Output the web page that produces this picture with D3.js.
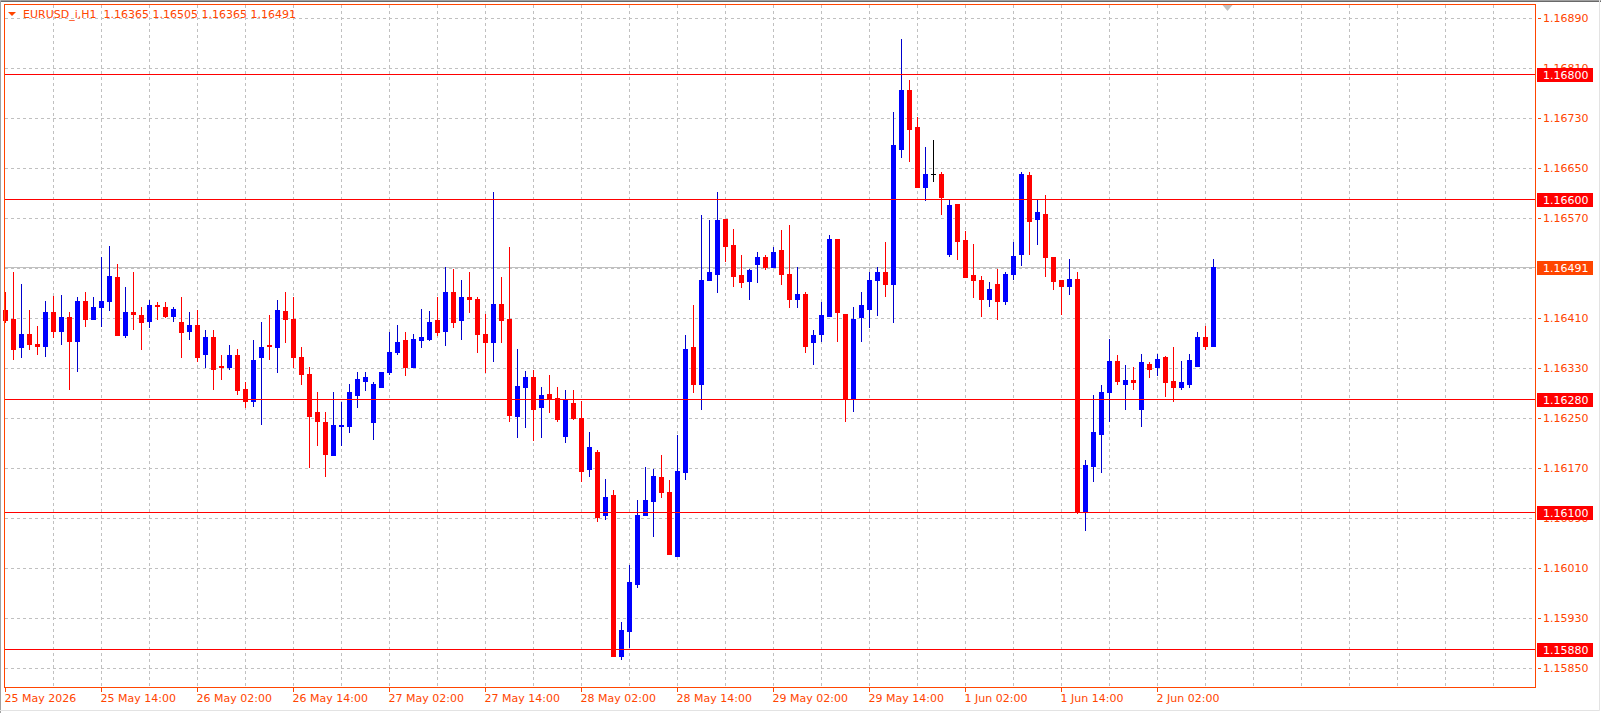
<!DOCTYPE html>
<html>
<head>
<meta charset="utf-8">
<script src="https://cdn.jsdelivr.net/npm/d3@7"></script>
<style>
  body { margin: 0; background: #ffffff; overflow: hidden; }
  svg text { font-family: "DejaVu Sans", sans-serif; font-size: 11px; }
</style>
</head>
<body>
<script>
// EURUSD_i H1 bars, 25 May 02:00 .. 2 Jun 09:00
const symbol = "EURUSD_i,H1";

const open = [
  1.16423, 1.16409, 1.16363, 1.16385, 1.16369, 1.16365, 1.16420, 1.16389, 1.16412, 1.16374,
  1.16438, 1.16408, 1.16427, 1.16438, 1.16476, 1.16382, 1.16420, 1.16415, 1.16405, 1.16431,
  1.16428, 1.16414, 1.16404, 1.16389, 1.16399, 1.16352, 1.16380, 1.16334, 1.16331, 1.16351,
  1.16297, 1.16278, 1.16347, 1.16367, 1.16363, 1.16422, 1.16409, 1.16348, 1.16321, 1.16259,
  1.16244, 1.16191, 1.16237, 1.16238, 1.16287, 1.16310, 1.16244, 1.16300, 1.16323, 1.16355,
  1.16375, 1.16332, 1.16375, 1.16377, 1.16406, 1.16390, 1.16451, 1.16406, 1.16444, 1.16441,
  1.16385, 1.16372, 1.16433, 1.16409, 1.16254, 1.16299, 1.16316, 1.16267, 1.16289, 1.16282,
  1.16222, 1.16274, 1.16250, 1.16168, 1.16196, 1.16094, 1.16127, 1.15870, 1.15910, 1.15985,
  1.16094, 1.16117, 1.16156, 1.16131, 1.16029, 1.16163, 1.16363, 1.16305, 1.16470, 1.16480,
  1.16569, 1.16527, 1.16479, 1.16469, 1.16496, 1.16508, 1.16491, 1.16519, 1.16481, 1.16440,
  1.16449, 1.16371, 1.16384, 1.16413, 1.16537, 1.16417, 1.16280, 1.16411, 1.16425, 1.16471,
  1.16484, 1.16465, 1.16681, 1.16775, 1.16715, 1.16619, 1.16640, 1.16641, 1.16513, 1.16593,
  1.16535, 1.16479, 1.16471, 1.16441, 1.16465, 1.16437, 1.16481, 1.16512, 1.16639, 1.16568,
  1.16577, 1.16508, 1.16471, 1.16462, 1.16473, 1.16100, 1.16174, 1.16224, 1.16291, 1.16342,
  1.16305, 1.16311, 1.16265, 1.16337, 1.16331, 1.16347, 1.16310, 1.16299, 1.16305, 1.16334,
  1.16380, 1.16365
];
const high = [
  1.16452, 1.16483, 1.16465, 1.16423, 1.16398, 1.16438, 1.16446, 1.16447, 1.16420, 1.16443,
  1.16452, 1.16444, 1.16507, 1.16526, 1.16497, 1.16460, 1.16484, 1.16427, 1.16439, 1.16436,
  1.16436, 1.16428, 1.16443, 1.16420, 1.16423, 1.16391, 1.16391, 1.16351, 1.16367, 1.16361,
  1.16307, 1.16375, 1.16404, 1.16415, 1.16439, 1.16452, 1.16444, 1.16364, 1.16331, 1.16292,
  1.16259, 1.16291, 1.16276, 1.16305, 1.16323, 1.16323, 1.16308, 1.16324, 1.16388, 1.16399,
  1.16388, 1.16385, 1.16425, 1.16422, 1.16444, 1.16492, 1.16489, 1.16471, 1.16484, 1.16444,
  1.16417, 1.16612, 1.16476, 1.16523, 1.16361, 1.16326, 1.16327, 1.16300, 1.16319, 1.16300,
  1.16294, 1.16295, 1.16278, 1.16228, 1.16199, 1.16153, 1.16135, 1.15924, 1.16015, 1.16119,
  1.16172, 1.16169, 1.16191, 1.16151, 1.16223, 1.16382, 1.16431, 1.16575, 1.16567, 1.16612,
  1.16569, 1.16553, 1.16511, 1.16489, 1.16516, 1.16511, 1.16523, 1.16551, 1.16559, 1.16492,
  1.16451, 1.16391, 1.16436, 1.16543, 1.16537, 1.16417, 1.16428, 1.16452, 1.16483, 1.16491,
  1.16532, 1.16739, 1.16857, 1.16791, 1.16732, 1.16684, 1.16695, 1.16644, 1.16599, 1.16593,
  1.16550, 1.16529, 1.16478, 1.16468, 1.16489, 1.16484, 1.16532, 1.16644, 1.16643, 1.16600,
  1.16606, 1.16508, 1.16471, 1.16505, 1.16483, 1.16183, 1.16287, 1.16303, 1.16377, 1.16351,
  1.16335, 1.16332, 1.16353, 1.16340, 1.16353, 1.16349, 1.16363, 1.16342, 1.16353, 1.16388,
  1.16398, 1.16505
];
const low = [
  1.16403, 1.16345, 1.16347, 1.16360, 1.16353, 1.16350, 1.16379, 1.16369, 1.16296, 1.16325,
  1.16398, 1.16408, 1.16398, 1.16423, 1.16382, 1.16379, 1.16393, 1.16361, 1.16395, 1.16408,
  1.16411, 1.16405, 1.16347, 1.16376, 1.16342, 1.16331, 1.16296, 1.16312, 1.16329, 1.16289,
  1.16267, 1.16270, 1.16240, 1.16344, 1.16323, 1.16371, 1.16331, 1.16305, 1.16171, 1.16207,
  1.16158, 1.16191, 1.16207, 1.16227, 1.16267, 1.16294, 1.16217, 1.16299, 1.16321, 1.16353,
  1.16319, 1.16331, 1.16364, 1.16375, 1.16382, 1.16367, 1.16396, 1.16377, 1.16419, 1.16355,
  1.16323, 1.16342, 1.16372, 1.16246, 1.16219, 1.16235, 1.16215, 1.16219, 1.16260, 1.16246,
  1.16211, 1.16249, 1.16150, 1.16158, 1.16086, 1.16088, 1.15869, 1.15864, 1.15883, 1.15979,
  1.16094, 1.16062, 1.16123, 1.16032, 1.16029, 1.16152, 1.16291, 1.16265, 1.16470, 1.16451,
  1.16502, 1.16461, 1.16459, 1.16441, 1.16467, 1.16489, 1.16491, 1.16465, 1.16427, 1.16427,
  1.16355, 1.16337, 1.16374, 1.16413, 1.16374, 1.16246, 1.16262, 1.16374, 1.16395, 1.16415,
  1.16446, 1.16403, 1.16667, 1.16662, 1.16620, 1.16599, 1.16630, 1.16577, 1.16509, 1.16505,
  1.16475, 1.16443, 1.16413, 1.16429, 1.16408, 1.16433, 1.16472, 1.16494, 1.16512, 1.16528,
  1.16477, 1.16456, 1.16416, 1.16449, 1.16098, 1.16071, 1.16150, 1.16163, 1.16246, 1.16305,
  1.16265, 1.16297, 1.16238, 1.16315, 1.16318, 1.16286, 1.16277, 1.16296, 1.16299, 1.16334,
  1.16360, 1.16365
];
const close = [
  1.16406, 1.16360, 1.16385, 1.16368, 1.16365, 1.16420, 1.16390, 1.16411, 1.16374, 1.16438,
  1.16408, 1.16428, 1.16438, 1.16478, 1.16382, 1.16420, 1.16416, 1.16403, 1.16431, 1.16430,
  1.16414, 1.16425, 1.16387, 1.16399, 1.16348, 1.16380, 1.16329, 1.16331, 1.16351, 1.16294,
  1.16278, 1.16343, 1.16364, 1.16365, 1.16423, 1.16409, 1.16347, 1.16320, 1.16254, 1.16245,
  1.16193, 1.16239, 1.16239, 1.16291, 1.16313, 1.16315, 1.16305, 1.16324, 1.16355, 1.16372,
  1.16332, 1.16377, 1.16380, 1.16404, 1.16388, 1.16451, 1.16404, 1.16444, 1.16441, 1.16385,
  1.16371, 1.16433, 1.16406, 1.16255, 1.16302, 1.16316, 1.16265, 1.16287, 1.16281, 1.16249,
  1.16279, 1.16250, 1.16165, 1.16204, 1.16091, 1.16124, 1.15870, 1.15911, 1.15988, 1.16094,
  1.16119, 1.16158, 1.16131, 1.16032, 1.16166, 1.16361, 1.16305, 1.16471, 1.16483, 1.16567,
  1.16526, 1.16478, 1.16467, 1.16487, 1.16508, 1.16491, 1.16516, 1.16480, 1.16440, 1.16449,
  1.16365, 1.16383, 1.16415, 1.16537, 1.16419, 1.16280, 1.16409, 1.16431, 1.16471, 1.16484,
  1.16465, 1.16687, 1.16775, 1.16713, 1.16620, 1.16641, 1.16640, 1.16603, 1.16591, 1.16534,
  1.16475, 1.16470, 1.16440, 1.16457, 1.16438, 1.16481, 1.16510, 1.16641, 1.16566, 1.16579,
  1.16507, 1.16469, 1.16462, 1.16473, 1.16100, 1.16175, 1.16227, 1.16292, 1.16342, 1.16309,
  1.16311, 1.16307, 1.16339, 1.16329, 1.16345, 1.16307, 1.16299, 1.16308, 1.16343, 1.16379,
  1.16365, 1.16491
];

// time axis: bar index of each label
const timeTickBars = [0, 12, 24, 36, 48, 60, 72, 84, 96, 108, 120, 132, 144];
const timeTickLabels = ["25 May 2026", "25 May 14:00", "26 May 02:00", "26 May 14:00",
  "27 May 02:00", "27 May 14:00", "28 May 02:00", "28 May 14:00", "29 May 02:00",
  "29 May 14:00", "1 Jun 02:00", "1 Jun 14:00", "2 Jun 02:00"];

const priceTicks = [1.16890, 1.16810, 1.16730, 1.16650, 1.16570, 1.16490, 1.16410,
  1.16330, 1.16250, 1.16170, 1.16090, 1.16010, 1.15930, 1.15850];

// horizontal levels drawn on the chart
const levels = [1.16800, 1.16600, 1.16280, 1.16100, 1.15880];
const bid = 1.16491;


function init() {

  const W = 1601, H = 713;
  const left = 5, right = 1535, top = 5, bottom = 687;
  const axisCol = "#FF4500";

  const svg = d3.select("body").append("svg")
    .attr("width", W)
    .attr("height", H)
    .style("display", "block")
    .style("background-color", "#FFFFFF");

  const x = d3.scaleLinear().domain([0, 191]).range([5.5, 5.5 + 8 * 191]);
  const y = d3.scaleLinear().domain([1.15850, 1.16890]).range([668.5, 18.5]);
  const px = v => Math.floor(v) + 0.5;

  // window edges
  svg.append("path").attr("d", `M0.5 ${H} V0.5 H${W}`)
    .attr("stroke", "#A0A0A0").attr("fill", "none");
  svg.append("path").attr("d", `M1 1.5 H${W}`)
    .attr("stroke", "#696969").attr("fill", "none");
  svg.append("path").attr("d", `M0 ${H - 2.5} H${W - 1.5} V0`)
    .attr("stroke", "#E3E3E3").attr("fill", "none");

  // grid
  const grid = svg.append("g").attr("stroke", "#C0C0C0").attr("stroke-dasharray", "3,3");
  grid.selectAll("line.h").data(priceTicks).join("line")
    .attr("x1", left).attr("x2", right)
    .attr("y1", d => px(y(d))).attr("y2", d => px(y(d)));
  grid.selectAll("line.v").data(d3.range(6, 191, 6)).join("line")
    .attr("x1", d => x(d)).attr("x2", d => x(d))
    .attr("y1", top).attr("y2", bottom);

  // bid line
  svg.append("line")
    .attr("x1", left).attr("x2", right)
    .attr("y1", px(y(bid))).attr("y2", px(y(bid)))
    .attr("stroke", "#C0C0C0");

  // candles
  const bars = d3.range(open.length).map(i => ({ i: i, o: open[i], h: high[i], l: low[i], c: close[i] }));
  const bodyCol = d => d.c > d.o ? "#0000FF" : (d.c < d.o ? "#FF0000" : "#000000");
  const wickCol = d => d.c > d.o ? "#0000CD" : (d.c < d.o ? "#FF0000" : "#000000");

  const candles = svg.append("g").attr("shape-rendering", "crispEdges");
  candles.selectAll("line").data(bars).join("line")
    .attr("x1", d => x(d.i)).attr("x2", d => x(d.i))
    .attr("y1", d => Math.floor(y(d.h)))
    .attr("y2", d => Math.floor(y(d.l)) + 1)
    .attr("stroke", wickCol);
  candles.selectAll("rect").data(bars).join("rect")
    .attr("x", d => x(d.i) - 2.5)
    .attr("width", 5)
    .attr("y", d => Math.floor(y(Math.max(d.o, d.c))))
    .attr("height", d => Math.max(1, Math.floor(y(Math.min(d.o, d.c))) - Math.floor(y(Math.max(d.o, d.c))) + 1))
    .attr("fill", bodyCol);

  // levels
  svg.append("g").selectAll("line").data(levels).join("line")
    .attr("x1", left).attr("x2", right)
    .attr("y1", d => px(y(d))).attr("y2", d => px(y(d)))
    .attr("stroke", "#FF0000");

  // frame
  svg.append("rect")
    .attr("x", 4.5).attr("y", 4.5)
    .attr("width", right - 4.5 + 0.5).attr("height", bottom - 4.5 + 0.5)
    .attr("stroke", axisCol).attr("fill", "none");

  // chart shift marker
  svg.append("path").attr("d", "M1222.5 5 H1232.5 L1227.5 11 Z").attr("fill", "#C0C0C0");

  // price axis
  const yAxis = svg.append("g")
    .attr("transform", "translate(1538,0)")
    .call(d3.axisRight(y).tickValues(priceTicks).tickFormat(d3.format(".5f"))
      .tickSize(3).tickPadding(2).offset(0));
  yAxis.select(".domain").remove();
  yAxis.selectAll(".tick").attr("transform", d => `translate(0,${px(y(d))})`);
  yAxis.selectAll(".tick line").attr("stroke", axisCol);
  yAxis.selectAll(".tick text").attr("fill", axisCol).attr("x", 5)
    .style("font-family", "DejaVu Sans, sans-serif").style("font-size", "11px");

  // time axis
  const xAxis = svg.append("g")
    .attr("transform", `translate(0,${bottom})`)
    .call(d3.axisBottom(x).tickValues(timeTickBars).tickFormat((d, i) => timeTickLabels[i])
      .tickSize(5).offset(0));
  xAxis.select(".domain").remove();
  xAxis.selectAll(".tick line").attr("stroke", axisCol);
  xAxis.selectAll(".tick text").attr("fill", axisCol)
    .attr("text-anchor", "start").attr("x", -1).attr("y", 15).attr("dy", null)
    .style("font-family", "DejaVu Sans, sans-serif").style("font-size", "11px");

  // price labels for levels and bid
  const tags = levels.map(v => ({ v: v, col: "#FF0000" })).concat([{ v: bid, col: "#FF4500" }]);
  const tag = svg.append("g").selectAll("g").data(tags).join("g")
    .attr("transform", d => `translate(1537,${Math.floor(y(d.v))})`);
  tag.append("rect")
    .attr("x", 0).attr("y", -6).attr("width", 56).attr("height", 14)
    .attr("fill", d => d.col);
  tag.append("text")
    .attr("x", 6).attr("y", 5)
    .attr("fill", "#FFFFFF")
    .text(d => d.v.toFixed(5));

  // title
  const n = open.length - 1;
  svg.append("path").attr("d", "M8 12 H16 L12 16 Z").attr("fill", axisCol);
  svg.append("text")
    .attr("x", 23).attr("y", 18)
    .attr("fill", axisCol)
    .style("white-space", "pre")
    .attr("xml:space", "preserve")
    .text(symbol + "  " + [open[n], high[n], low[n], close[n]].map(v => v.toFixed(5)).join(" "));
}

init();
</script>
</body>
</html>
